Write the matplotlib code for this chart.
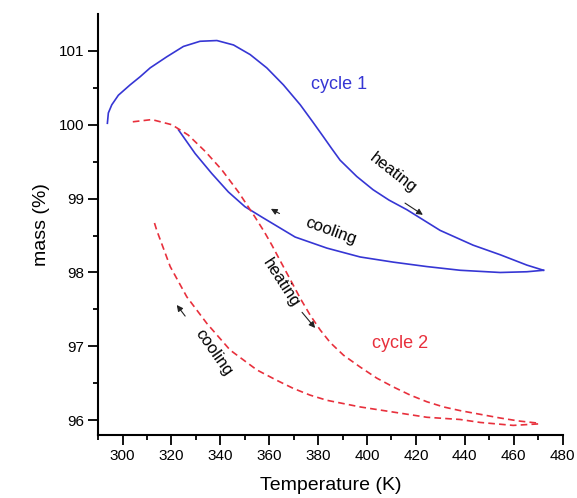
import matplotlib
matplotlib.use("Agg")
import matplotlib.pyplot as plt

plt.rcParams['font.family'] = ['Liberation Sans', 'DejaVu Sans']

# cycle 1, heating branch (K, mass %)
c1_heat_T = [293.8, 294.2, 295.6, 298.3, 303.1, 307.2, 311.3, 318.1, 324.9, 331.7,
             338.6, 345.4, 352.2, 359.0, 365.8, 372.7, 378.0, 382.1, 385.5, 389.0,
             395.8, 402.5, 409.0, 416.3, 429.9, 443.4, 454.5, 465.4, 472.2]
c1_heat_m = [100.02, 100.16, 100.27, 100.40, 100.54, 100.65, 100.77, 100.92, 101.06, 101.13,
             101.14, 101.08, 100.95, 100.77, 100.54, 100.27, 100.03, 99.84, 99.68, 99.52,
             99.30, 99.12, 98.98, 98.85, 98.57, 98.37, 98.24, 98.10, 98.03]
# cycle 1, cooling branch
c1_cool_T = [472.2, 465.4, 454.5, 438.1, 424.5, 410.8, 397.2, 383.6, 370.6, 357.0,
             350.1, 343.3, 336.5, 329.7, 322.9]
c1_cool_m = [98.03, 98.01, 98.00, 98.03, 98.08, 98.14, 98.21, 98.33, 98.48, 98.75,
             98.89, 99.09, 99.34, 99.61, 99.93]

# cycle 2, heating branch
c2_heat_T = [304.2, 312.0, 320.2, 326.9, 333.8, 340.6, 347.4, 354.2, 358.0, 361.1,
             364.8, 369.5, 372.7, 376.8, 380.9, 385.0, 390.4, 397.2, 404.0, 410.8,
             417.7, 424.5, 431.3, 438.1, 446.3, 454.5, 462.0, 470.2]
c2_heat_m = [100.04, 100.07, 100.00, 99.86, 99.64, 99.39, 99.09, 98.75, 98.55, 98.37,
             98.14, 97.85, 97.65, 97.42, 97.22, 97.05, 96.88, 96.72, 96.57, 96.45,
             96.34, 96.25, 96.18, 96.13, 96.08, 96.03, 95.99, 95.96]
# cycle 2, cooling branch
c2_cool_T = [470.0, 459.8, 446.3, 438.1, 424.5, 410.8, 397.2, 383.6, 376.7, 369.9,
             363.1, 355.0, 344.0, 334.5, 326.3, 319.5, 314.0, 312.6]
c2_cool_m = [95.95, 95.93, 95.97, 96.01, 96.04, 96.11, 96.18, 96.27, 96.34, 96.43,
             96.54, 96.68, 96.95, 97.31, 97.67, 98.08, 98.57, 98.72]

blue = '#3636d4'
red = '#e8303c'

fig = plt.figure(figsize=(5.77, 4.98), dpi=100)
ax = fig.add_axes([0.170, 0.1265, 0.805, 0.8455])

ax.plot(c1_heat_T, c1_heat_m, color=blue, lw=1.2)
ax.plot(c1_cool_T, c1_cool_m, color=blue, lw=1.2)
ax.plot(c2_heat_T, c2_heat_m, color=red, lw=1.2, ls=(0, (4, 2.5)))
ax.plot(c2_cool_T, c2_cool_m, color=red, lw=1.2, ls=(0, (4, 2.5)))

ax.set_xlim(290, 480)
ax.set_xticks(range(300, 481, 20))
ax.set_xticks(range(290, 481, 10), minor=True)
ax.set_yticks([96, 97, 98, 99, 100, 101])
ax.set_yticks([95.5 + 0.5 * i for i in range(12)], minor=True)
ax.set_ylim(95.8, 101.5)

for s in ['top', 'right']:
    ax.spines[s].set_visible(False)
for s in ['left', 'bottom']:
    ax.spines[s].set_linewidth(1.5)
ax.tick_params(which='major', length=7, width=1.3, labelsize=11, pad=3)
ax.tick_params(which='minor', length=3.5, width=1.3)

ax.set_xlabel('Temperature (K)', fontsize=14, labelpad=10)
ax.set_ylabel('mass (%)', fontsize=14, labelpad=6)

# annotations
ax.text(388.6, 100.55, 'cycle 1', color=blue, fontsize=13, ha='center', va='center')
ax.text(413.6, 97.04, 'cycle 2', color=red, fontsize=13, ha='center', va='center')

ax.text(410.7, 99.35, 'heating', fontsize=12, ha='center', va='center', rotation=-38)
ax.text(385.3, 98.56, 'cooling', fontsize=12, ha='center', va='center', rotation=-20)
ax.text(364.9, 97.86, 'heating', fontsize=12, ha='center', va='center', rotation=-57)
ax.text(337.1, 96.91, 'cooling', fontsize=12, ha='center', va='center', rotation=-55)

arrow = dict(arrowstyle='-|>', color='#222222', lw=0.8, mutation_scale=9)
ax.annotate('', xy=(423.8, 98.76), xytext=(414.6, 98.96), arrowprops=arrow)
ax.annotate('', xy=(359.7, 98.88), xytext=(365.2, 98.78), arrowprops=arrow)
ax.annotate('', xy=(379.5, 97.22), xytext=(372.7, 97.49), arrowprops=arrow)
ax.annotate('', xy=(321.5, 97.59), xytext=(326.3, 97.38), arrowprops=arrow)

fig.savefig('out.png', dpi=100)
